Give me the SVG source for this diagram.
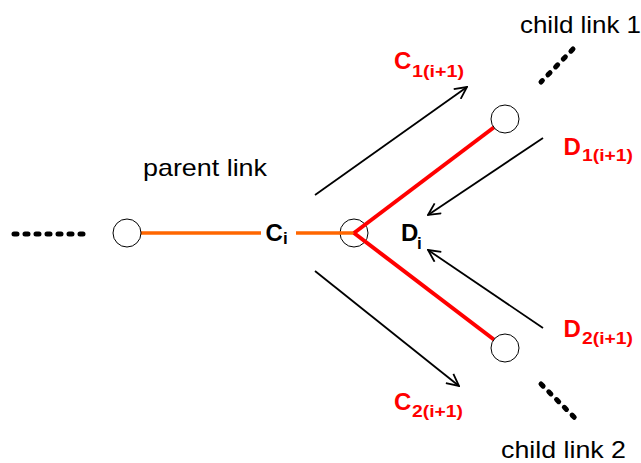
<svg xmlns="http://www.w3.org/2000/svg" width="641" height="463" viewBox="0 0 641 463">
  <style>
    .node { fill: #ffffff; stroke: #000000; stroke-width: 1; }
    .flow { fill: none; stroke: #000000; stroke-width: 1.8; marker-end: url(#head); }
    .dots { fill: none; stroke: #000000; stroke-width: 5; stroke-linecap: round; stroke-dasharray: 3 8; }
    .parent { fill: none; stroke: #ff6600; stroke-width: 3.5; }
    .child { fill: none; stroke: #ff0000; stroke-width: 4; }
    .name { font-family: "Liberation Sans", Arial, sans-serif; font-size: 24px; fill: #000000; }
    .big { font-family: "Liberation Sans", Arial, sans-serif; font-weight: bold; font-size: 24px; }
    .sub { font-family: "Liberation Sans", Arial, sans-serif; font-weight: bold; font-size: 17px; }
    .red { fill: #ff0000; }
    .blk { fill: #000000; }
  </style>
  <defs>
    <marker id="head" viewBox="0 0 14 14" refX="13" refY="7" markerWidth="14" markerHeight="14" markerUnits="userSpaceOnUse" orient="auto">
      <path d="M1,1 L13,7 L1,13" fill="none" stroke="#000000" stroke-width="1.8"/>
    </marker>
  </defs>

  <!-- hub node sits beneath the links that meet at its centre -->
  <g id="node-hub">
    <circle class="node" cx="354" cy="233" r="14"/>
  </g>

  <g id="connectors">
    <!-- parent link (split around the C_i label) -->
    <line class="parent" x1="141" y1="233" x2="261" y2="233"/>
    <line class="parent" x1="296" y1="233" x2="354" y2="233"/>
    <!-- child links -->
    <line class="child" x1="354" y1="233" x2="505" y2="119"/>
    <line class="child" x1="354" y1="233" x2="505" y2="348"/>
    <!-- message flows -->
    <line class="flow" x1="315" y1="195" x2="467" y2="87"/>
    <line class="flow" x1="543" y1="138" x2="428" y2="215"/>
    <line class="flow" x1="543" y1="328" x2="428" y2="250"/>
    <line class="flow" x1="315" y1="271" x2="459" y2="386"/>
    <!-- continuation dots -->
    <line class="dots" x1="14" y1="234" x2="88" y2="234"/>
    <line class="dots" x1="573" y1="49" x2="541" y2="82"/>
    <line class="dots" x1="541" y1="384" x2="575" y2="418"/>
  </g>

  <g id="node-parent">
    <circle class="node" cx="127" cy="233" r="14"/>
  </g>
  <g id="node-child1">
    <circle class="node" cx="505" cy="119" r="14"/>
  </g>
  <g id="node-child2">
    <circle class="node" cx="505" cy="348" r="14"/>
  </g>

  <g id="labels">
    <text class="name" x="143" y="176" textLength="124" lengthAdjust="spacingAndGlyphs">parent link</text>
    <text class="name" x="520" y="33" textLength="121" lengthAdjust="spacingAndGlyphs">child link 1</text>
    <text class="name" x="501" y="458" textLength="125" lengthAdjust="spacingAndGlyphs">child link 2</text>

    <text class="big blk" x="265.5" y="241">C</text>
    <text class="sub blk" x="283" y="243.5">i</text>

    <text class="big blk" x="401" y="241">D</text>
    <text class="sub blk" x="417" y="249">i</text>

    <text class="big red" x="394" y="69">C</text>
    <text class="sub red" x="412" y="76.5" textLength="52" lengthAdjust="spacingAndGlyphs">1(i+1)</text>

    <text class="big red" x="563.5" y="155">D</text>
    <text class="sub red" x="582" y="161" textLength="51" lengthAdjust="spacingAndGlyphs">1(i+1)</text>

    <text class="big red" x="563.5" y="337">D</text>
    <text class="sub red" x="582" y="343.5" textLength="51" lengthAdjust="spacingAndGlyphs">2(i+1)</text>

    <text class="big red" x="394" y="410">C</text>
    <text class="sub red" x="412" y="416.5" textLength="51" lengthAdjust="spacingAndGlyphs">2(i+1)</text>
  </g>
</svg>
